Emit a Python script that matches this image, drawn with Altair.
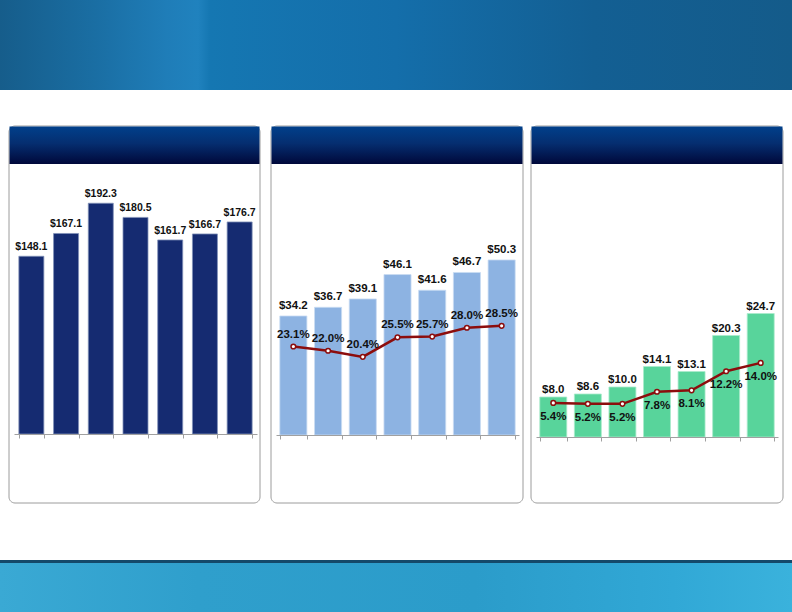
import altair as alt
import pandas as pd

# ---------------- data ----------------
periods = ["P1", "P2", "P3", "P4", "P5", "P6", "P7"]
revenue = [148.1, 167.1, 192.3, 180.5, 161.7, 166.7, 176.7]
gross_profit = [34.2, 36.7, 39.1, 46.1, 41.6, 46.7, 50.3]
gross_margin = [23.1, 22.0, 20.4, 25.5, 25.7, 28.0, 28.5]
ebitda = [8.0, 8.6, 10.0, 14.1, 13.1, 20.3, 24.7]
ebitda_margin = [5.4, 5.2, 5.2, 7.8, 8.1, 12.2, 14.0]

W, H = 792, 612
FONT = "Liberation Sans Narrow, Arial Narrow, Liberation Sans, Arial"
LINE_RED = "#8c0d0d"
one = alt.Data(values=[{"k": 1}])


def deco(x, x2, y, y2, **kw):
    return alt.Chart(one).mark_rect(**kw).encode(
        x=alt.value(x), x2=alt.value(x2), y=alt.value(y), y2=alt.value(y2)
    )


def grad(stops, vertical=False):
    return alt.LinearGradient(
        gradient="linear",
        x1=0, y1=0,
        x2=0 if vertical else 1,
        y2=1 if vertical else 0,
        stops=[alt.GradientStop(offset=o, color=c) for o, c in stops],
    )


banner = deco(0, W, 0, 90, fill=grad([
    (0.0, "#165d8b"), (0.12, "#1a6ea3"), (0.21, "#1f7db8"), (0.25, "#2082be"),
    (0.265, "#1577b2"), (0.5, "#146eaa"), (0.75, "#135f93"), (1.0, "#145b8a")]))
footer_line = deco(0, W, 560, 563, fill="#14496a")
footer = deco(0, W, 563, H, fill=grad([
    (0.0, "#3aa9d4"), (0.25, "#2f9fcc"), (0.6, "#2b9cca"), (0.85, "#31a8d6"), (1.0, "#3ab2dc")]))

header_grad = grad([(0.0, "#01408b"), (0.45, "#052e70"), (1.0, "#00083a")], vertical=True)


def panel_frame(x0, x1):
    box = deco(x0, x1, 126, 503, fill="white", stroke="#9c9c9c", strokeWidth=1, cornerRadius=6)
    head = deco(x0 + 0.5, x1 - 0.5, 126.5, 164, fill=header_grad)
    return [box, head]


def panel(values, xr, pad, base, per_unit, ydom, color, stroke, dollar_dy, fsize,
          pct=None, pct_zero=None, pct_per=None, pct_dom=None, pct_above=True):
    df = pd.DataFrame({"period": periods, "value": values})
    df["label"] = [f"${v:.1f}" for v in values]
    xs = alt.Scale(range=xr, paddingInner=pad, paddingOuter=pad / 2)
    ys = alt.Scale(domain=[0, ydom], range=[base, base - per_unit * ydom], nice=False, zero=True)
    xaxis = alt.Axis(orient="bottom", offset=base - H, labels=False, title=None,
                     tickBand="extent", tickSize=4, tickColor="#a0a0a0",
                     domainColor="#a0a0a0", grid=False, tickWidth=1, domainWidth=1,
                     zindex=1)
    bars = alt.Chart(df).mark_bar(color=color, stroke=stroke, strokeWidth=0.8).encode(
        x=alt.X("period:N", sort=periods, scale=xs, axis=xaxis),
        y=alt.Y("value:Q", scale=ys, axis=None),
    )
    lbl = alt.Chart(df).mark_text(font=FONT, fontSize=fsize, fontWeight="bold", color="#111111",
                                  baseline="alphabetic", dy=dollar_dy).encode(
        x=alt.X("period:N", sort=periods, scale=xs, axis=None),
        y=alt.Y("value:Q", scale=ys, axis=None),
        text="label:N",
    )
    layers = [bars, lbl]
    if pct is not None:
        pdf = pd.DataFrame({"period": periods, "pct": pct})
        pdf["plabel"] = [f"{v:.1f}%" for v in pct]
        ps = alt.Scale(domain=[0, pct_dom], range=[pct_zero, pct_zero - pct_per * pct_dom],
                       nice=False, zero=True)
        enc = dict(x=alt.X("period:N", sort=periods, scale=xs, axis=None),
                   y=alt.Y("pct:Q", scale=ps, axis=None))
        line = alt.Chart(pdf).mark_line(color=LINE_RED, strokeWidth=2.5).encode(**enc)
        pts = alt.Chart(pdf).mark_point(shape="circle", filled=True, fill="white",
                                        stroke=LINE_RED, strokeWidth=1.5, size=22,
                                        opacity=1).encode(**enc)
        if pct_above:
            ptxt = alt.Chart(pdf).mark_text(font=FONT, fontSize=fsize, fontWeight="bold",
                                            color="#111111", baseline="alphabetic", dy=-9)
        else:
            ptxt = alt.Chart(pdf).mark_text(font=FONT, fontSize=fsize, fontWeight="bold",
                                            color="#111111", baseline="top", dy=8)
        ptxt = ptxt.encode(text="plabel:N", **enc)
        layers += [line, pts, ptxt]
    return layers


layers = [banner, footer_line, footer]
layers += panel_frame(9, 260) + panel_frame(271, 523) + panel_frame(531, 783)
layers += panel(revenue, [14, 257], 0.28, 434, 1.2, 200, "#152b71", "#8090b8", -6, 10.5)
layers += panel(gross_profit, [276, 519], 0.22, 435, 3.48, 60, "#8db3e2", "#c9dcf2", -7, 11.5,
                pct=gross_margin, pct_zero=435, pct_per=3.83, pct_dom=60, pct_above=True)
layers += panel(ebitda, [536, 778], 0.22, 437, 5.0, 30, "#58d49b", "#a9ebcb", -4, 11.5,
                pct=ebitda_margin, pct_zero=428, pct_per=4.65, pct_dom=30, pct_above=False)

chart = alt.layer(*layers).resolve_scale(x="independent", y="independent").properties(
    width=W, height=H, autosize=alt.AutoSizeParams(type="none"), padding=0,
    background="white",
).configure_view(stroke=None)

chart.save("out.html", embed_options={"renderer": "svg", "actions": False})
